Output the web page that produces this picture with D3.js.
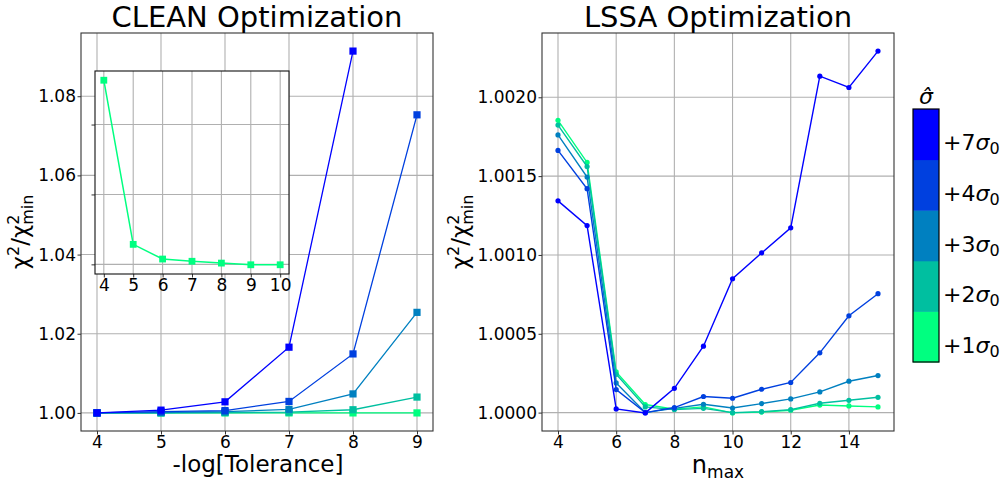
<!DOCTYPE html>
<html><head><meta charset="utf-8">
<script src="https://cdn.jsdelivr.net/npm/d3@7"></script>
<style>body{margin:0;background:#fff} text{font-family:"DejaVu Sans",sans-serif;fill:#000}</style>
</head><body><svg id="c" width="1006" height="485"></svg>
<script>
// ---------- data ----------
const sigmaLabels = ["+1", "+2", "+3", "+4", "+7"];
const sigmaColors = ["#00ff80", "#00bfa0", "#0080c0", "#0040df", "#0000ff"];

const cleanTol = [4, 5, 6, 7, 8, 9];
const clean1 = [1.0000, 1.0000, 1.0000, 1.0000, 1.0000, 1.0000];
const clean2 = [1.0000, 1.0000, 1.0001, 1.0002, 1.0008, 1.0040];
const clean3 = [1.0000, 1.0001, 1.0003, 1.0009, 1.0048, 1.0254];
const clean4 = [1.0000, 1.0003, 1.0006, 1.0029, 1.0149, 1.0753];
const clean7 = [1.0000, 1.0007, 1.0028, 1.0166, 1.0914, null];
const cleanXTicks = [4, 5, 6, 7, 8, 9];
const cleanYTicks = [1.00, 1.02, 1.04, 1.06, 1.08];

const insetTol = [4, 5, 6, 7, 8, 9, 10];
const insetVals = [1.01317, 1.00143, 1.00038, 1.00022, 1.00009, 0.99997, 0.99997];
const insetXTicks = [4, 5, 6, 7, 8, 9, 10];
const insetYTicks = [1.000, 1.005, 1.010];

const nmax = [4, 5, 6, 7, 8, 9, 10, 11, 12, 13, 14, 15];
const lssa1 = [1.001854, 1.001587, 1.000258, 1.000051, 1.000022, 1.000036, 0.999998, 1.000003, 1.000015, 1.000048, 1.000042, 1.000036];
const lssa2 = [1.001824, 1.001561, 1.000243, 1.000036, 1.000019, 1.000027, 1.000000, 1.000006, 1.000019, 1.000059, 1.000078, 1.000097];
const lssa3 = [1.001761, 1.001494, 1.000188, 1.000000, 1.000027, 1.000053, 1.000029, 1.000057, 1.000087, 1.000131, 1.000199, 1.000235];
const lssa4 = [1.001663, 1.001420, 1.000146, 1.000000, 1.000032, 1.000102, 1.000091, 1.000148, 1.000191, 1.000379, 1.000614, 1.000754];
const lssa7 = [1.001343, 1.001186, 1.000023, 0.999998, 1.000154, 1.000421, 1.000849, 1.001013, 1.001172, 1.002134, 1.002062, 1.002293];
const lssaXTicks = [4, 6, 8, 10, 12, 14];
const lssaYTicks = [1.0000, 1.0005, 1.0010, 1.0015, 1.0020];

// ---------- helpers ----------
const svg = d3.select("#c");
function padExtent(vals) {
  const v = vals.filter(d => d != null);
  const [a, b] = d3.extent(v);
  const p = (b - a) * 0.05;
  return [a - p, b + p];
}

function drawAxes(g, x, y, xt, yt, fmtY, opts) {
  const [x0, x1] = x.range(), [y1, y0] = y.range();
  g.append("g").selectAll("line").data(xt).join("line")
    .attr("x1", d => x(d)).attr("x2", d => x(d)).attr("y1", y0).attr("y2", y1)
    .attr("stroke", "#b0b0b0").attr("stroke-width", 1.1);
  g.append("g").selectAll("line").data(yt).join("line")
    .attr("y1", d => y(d)).attr("y2", d => y(d)).attr("x1", x0).attr("x2", x1)
    .attr("stroke", "#b0b0b0").attr("stroke-width", 1.1);
  const fs = opts.fs || 17;
  const ax = g.append("g").attr("transform", `translate(0,${y1})`)
    .call(d3.axisBottom(x).tickValues(xt).tickSize(3.5).tickPadding(1.5).tickFormat(d3.format("d")));
  const ay = g.append("g").attr("transform", `translate(${x0},0)`)
    .call(d3.axisLeft(y).tickValues(yt).tickSize(3.5).tickPadding(1.5).tickFormat(opts.noYLabels ? "" : fmtY));
  [ax, ay].forEach(a => {
    a.select(".domain").remove();
    a.selectAll(".tick line").attr("stroke", "#333").attr("stroke-width", 1);
    a.selectAll(".tick text").attr("font-size", fs).attr("font-family", "DejaVu Sans").attr("fill", "#000");
  });
  g.append("rect").attr("x", x0).attr("y", y0).attr("width", x1 - x0).attr("height", y1 - y0)
    .attr("fill", "none").attr("stroke", opts.frame || "#333").attr("stroke-width", 1.1);
}

function chiLabel(cx, cy) {
  const g = svg.append("g").attr("transform", `translate(${cx},${cy}) rotate(-90)`);
  const inner = g.append("g");
  let xpos = 0;
  const add = (t, fs, dy, advance = true) => {
    const el = inner.append("text").attr("x", xpos).attr("y", dy).attr("font-size", fs).text(t);
    const w = el.node().getComputedTextLength();
    if (advance) xpos += w;
    return w;
  };
  add("χ", 23, 0);
  add("2", 16, -9);
  add("/χ", 23, 0);
  const w1 = add("2", 16, -9, false);
  const w2 = add("min", 16, 5, false);
  xpos += Math.max(w1, w2);
  inner.attr("transform", `translate(${-xpos / 2},0)`);
}

// ---------- CLEAN panel ----------
const L = { x0: 81, x1: 433, y0: 33, y1: 431 };
const xC = d3.scaleLinear().domain(padExtent(cleanTol)).range([L.x0, L.x1]);
const cleanAll = [clean1, clean2, clean3, clean4, clean7];
const yC = d3.scaleLinear().domain(padExtent(cleanAll.flat())).range([L.y1, L.y0]);
const gL = svg.append("g");
drawAxes(gL, xC, yC, cleanXTicks, cleanYTicks, d3.format(".2f"), {});
cleanAll.forEach((s, i) => {
  const pts = cleanTol.map((t, j) => [t, s[j]]).filter(p => p[1] != null);
  gL.append("path").datum(pts)
    .attr("d", d3.line().x(p => xC(p[0])).y(p => yC(p[1])))
    .attr("fill", "none").attr("stroke", sigmaColors[i]).attr("stroke-width", 1.3);
  gL.append("g").selectAll("rect").data(pts).join("rect")
    .attr("x", p => xC(p[0]) - 3.6).attr("y", p => yC(p[1]) - 3.6)
    .attr("width", 7.2).attr("height", 7.2).attr("fill", sigmaColors[i]);
});
svg.append("text").attr("x", (L.x0 + L.x1) / 2).attr("y", 27).attr("text-anchor", "middle")
  .attr("font-size", 29).text("CLEAN Optimization");
svg.append("text").attr("x", (L.x0 + L.x1) / 2 + 1).attr("y", 472).attr("text-anchor", "middle")
  .attr("font-size", 23).text("-log[Tolerance]");
chiLabel(28, (L.y0 + L.y1) / 2);

// ---------- inset ----------
const I = { x0: 95, x1: 289, y0: 71, y1: 274 };
const gI = svg.append("g");
gI.append("rect").attr("x", I.x0).attr("y", I.y0).attr("width", I.x1 - I.x0).attr("height", I.y1 - I.y0).attr("fill", "#fff");
const xI = d3.scaleLinear().domain(padExtent(insetTol)).range([I.x0, I.x1]);
const yI = d3.scaleLinear().domain(padExtent(insetVals)).range([I.y1, I.y0]);
drawAxes(gI, xI, yI, insetXTicks, insetYTicks, null, { noYLabels: true, frame: "#111" });
const insetPts = insetTol.map((t, j) => [t, insetVals[j]]);
gI.append("path").datum(insetPts)
  .attr("d", d3.line().x(p => xI(p[0])).y(p => yI(p[1])))
  .attr("fill", "none").attr("stroke", sigmaColors[0]).attr("stroke-width", 1.5);
gI.append("g").selectAll("rect").data(insetPts).join("rect")
  .attr("x", p => xI(p[0]) - 3.4).attr("y", p => yI(p[1]) - 3.4)
  .attr("width", 6.8).attr("height", 6.8).attr("fill", sigmaColors[0]);

// ---------- LSSA panel ----------
const R = { x0: 542, x1: 894, y0: 33, y1: 431 };
const lssaAll = [lssa1, lssa2, lssa3, lssa4, lssa7];
const xR = d3.scaleLinear().domain(padExtent(nmax)).range([R.x0, R.x1]);
const yR = d3.scaleLinear().domain(padExtent(lssaAll.flat())).range([R.y1, R.y0]);
const gR = svg.append("g");
drawAxes(gR, xR, yR, lssaXTicks, lssaYTicks, d3.format(".4f"), {});
lssaAll.forEach((s, i) => {
  const pts = nmax.map((t, j) => [t, s[j]]);
  gR.append("path").datum(pts)
    .attr("d", d3.line().x(p => xR(p[0])).y(p => yR(p[1])))
    .attr("fill", "none").attr("stroke", sigmaColors[i]).attr("stroke-width", 1.4);
  gR.append("g").selectAll("circle").data(pts).join("circle")
    .attr("cx", p => xR(p[0])).attr("cy", p => yR(p[1])).attr("r", 2.6).attr("fill", sigmaColors[i]);
});
svg.append("text").attr("x", (R.x0 + R.x1) / 2).attr("y", 27).attr("text-anchor", "middle")
  .attr("font-size", 29).text("LSSA Optimization");
const nl = svg.append("text").attr("x", (R.x0 + R.x1) / 2).attr("y", 473).attr("text-anchor", "middle").attr("font-size", 24);
nl.append("tspan").text("n");
nl.append("tspan").attr("font-size", 17).attr("dy", 5).text("max");
chiLabel(468, (R.y0 + R.y1) / 2);

// ---------- colorbar ----------
const CB = { x0: 913, x1: 939, y0: 109, y1: 362 };
const yB = d3.scaleBand().domain(sigmaLabels.slice().reverse()).range([CB.y0, CB.y1]);
const gB = svg.append("g");
gB.selectAll("rect.seg").data(sigmaLabels).join("rect")
  .attr("x", CB.x0).attr("y", d => yB(d)).attr("width", CB.x1 - CB.x0).attr("height", yB.bandwidth() + 0.5)
  .attr("fill", (d, i) => sigmaColors[i]);
gB.append("rect").attr("x", CB.x0).attr("y", CB.y0).attr("width", CB.x1 - CB.x0).attr("height", CB.y1 - CB.y0)
  .attr("fill", "none").attr("stroke", "#000").attr("stroke-width", 1.2);
sigmaLabels.forEach(d => {
  const t = gB.append("text").attr("x", CB.x1 + 4).attr("y", yB(d) + yB.bandwidth() / 2 + 16).attr("font-size", 22);
  t.append("tspan").text(d);
  t.append("tspan").attr("font-style", "italic").text("σ");
  t.append("tspan").attr("font-size", 16).attr("dy", 4).text("0");
});
gB.append("text").attr("x", (CB.x0 + CB.x1) / 2).attr("y", 104).attr("text-anchor", "middle")
  .attr("font-size", 22).attr("font-style", "italic").text("σ\u0302");
</script></body></html>
